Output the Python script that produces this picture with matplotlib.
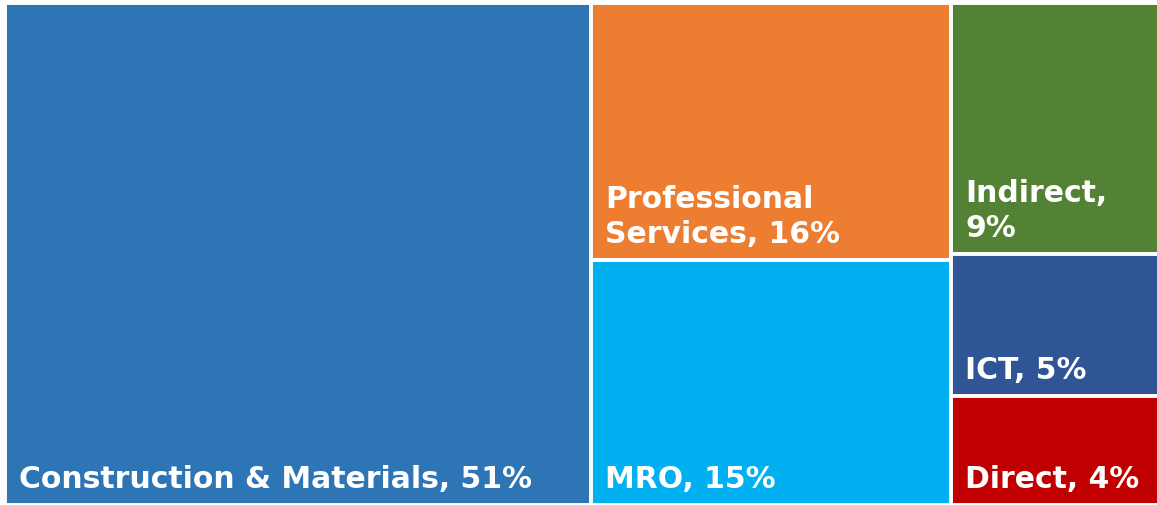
import matplotlib
matplotlib.use("Agg")
import matplotlib.pyplot as plt
from matplotlib.patches import Rectangle

# spend share by category (percent), grouped into the treemap columns
categories = ["Construction & Materials", "Professional Services", "MRO", "Indirect", "ICT", "Direct"]
labels = ["Construction & Materials, 51%", "Professional\nServices, 16%", "MRO, 15%",
          "Indirect,\n9%", "ICT, 5%", "Direct, 4%"]
shares = [50.8, 16.0, 15.2, 9.0, 5.1, 3.9]
columns = [[0], [1, 2], [3, 4, 5]]
colors = ["#2E75B6", "#ED7D31", "#00B0F0", "#548235", "#2F5597", "#C00000"]

total = float(sum(shares))
axW = 1154.0
axH = 502.0

fig = plt.figure(figsize=(11.57, 5.05), dpi=100)
ax = fig.add_axes([5 / 1157, 0 / 505, axW / 1157, axH / 505])
ax.set_xlim(0, 1)
ax.set_ylim(0, 1)
ax.axis("off")

#slice-and-dice layout: each column width is its share, cells stacked top to bottom
x0 = 0.0
for col in columns:
    colSum = sum(shares[i] for i in col)
    w = colSum / total
    yTop = 1.0
    for i in col:
        h = shares[i] / colSum
        rect = Rectangle((x0, yTop - h), w, h, facecolor=colors[i],
                         edgecolor="white", linewidth=2.8)
        ax.add_patch(rect)
        ax.text(x0 + 14 / axW, yTop - h + 11 / axH, labels[i], color="white",
                fontsize=21.5, fontweight="bold", ha="left", va="bottom",
                linespacing=1.26, family="DejaVu Sans")
        yTop -= h
    x0 += w

fig.savefig("out.png", dpi=100, facecolor="white")
